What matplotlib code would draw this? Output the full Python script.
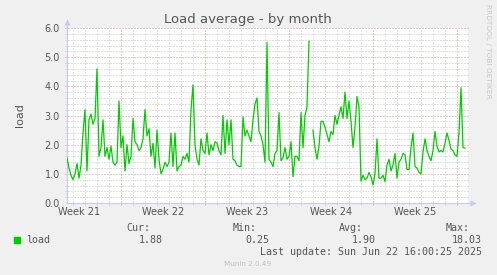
import numpy as np
import pandas as pd
import matplotlib
matplotlib.use("Agg")
import matplotlib.pyplot as plt
from matplotlib.patches import Rectangle

# load average, one sample every 4 hours
start = "2025-05-20 12:00"
load = [
    1.55, 1.2, 0.95, 0.8, 1.0, 1.35, 0.85, 1.3, 2.4, 3.2,
    1.1, 2.85, 3.05, 2.7, 2.9, 4.6, 1.6, 1.9, 2.85, 1.6,
    1.9, 1.5, 1.95, 1.4, 1.3, 1.4, 3.5, 1.9, 2.3, 1.1,
    2.0, 1.35, 1.6, 2.9, 2.1, 2.0, 1.8, 1.9, 2.2, 3.2,
    2.3, 2.55, 1.6, 2.05, 1.2, 2.5, 1.5, 1.0, 1.15, 1.4,
    1.25, 1.4, 2.4, 1.25, 2.4, 1.1, 1.25, 1.3, 1.6, 1.5,
    1.7, 1.4, 3.2, 4.05, 2.0, 1.5, 1.3, 2.2, 1.8, 1.7,
    2.4, 1.65, 2.0, 1.8, 2.1, 2.05, 1.8, 1.65, 3.0, 1.7,
    2.85, 2.0, 2.85, 1.5, 1.45, 1.3, 1.25, 1.25, 2.95, 2.3,
    2.5, 2.3, 2.1, 2.85, 3.4, 3.6, 2.45, 2.3, 2.0, 1.4,
    5.5, 1.5, 1.4, 1.25, 1.7, 1.8, 3.1, 1.45, 1.55, 1.9,
    1.5, 1.6, 2.1, 0.9, 1.6, 1.6, 1.45, 3.1, 1.9, 3.0,
    3.3, 5.55, np.nan, 2.5, 1.9, 1.5, 1.95, 2.8, 2.8, 2.6,
    2.35, 2.1, 2.45, 2.35, 3.0, 2.7, 3.0, 3.3, 2.9, 3.8,
    2.9, 3.5, 2.8, 1.9, 2.6, 3.65, 3.3, 0.75, 0.95, 0.8,
    0.85, 1.05, 0.9, 0.62, 1.0, 2.2, 0.85, 0.85, 0.95, 0.73,
    1.3, 1.5, 1.1, 1.3, 1.7, 0.85, 1.4, 1.5, 1.7, 1.65,
    1.15, 1.15, 1.9, 2.4, 1.25, 1.2, 1.05, 1.0, 1.75, 2.2,
    1.8, 1.6, 1.45, 1.8, 2.45, 1.95, 1.75, 1.8, 1.75, 2.05,
    2.4, 2.15, 1.85, 1.8, 1.65, 1.6, 2.4, 3.95, 1.9, 1.88,
]
y_ticks = [0, 1, 2, 3, 4, 5, 6]
legend_heads = ["Cur:", "Min:", "Avg:", "Max:"]
legend_vals = ["1.88", "0.25", "1.90", "18.03"]
last_update = "Last update: Sun Jun 22 16:00:25 2025"

W, H = 497, 275
BG = "#F0F0F0"
TXT = "#555555"
GREEN = "#00CC00"
GRID = "#c4c4c4"
MGRID = "#e08c8c"
AXIS = "#c8c8f4"


def fx(px):
    return px / W


def fy(py):
    return 1 - py / H


times = pd.date_range(start, periods=len(load), freq="4h")
t0 = times[0]
t1 = times[-1] + pd.Timedelta(hours=6)

fig = plt.figure(figsize=(W / 100, H / 100), dpi=100, facecolor=BG)
ax = fig.add_axes([fx(67), fy(203), fx(468) - fx(67), fy(28) - fy(203)])
ax.set_facecolor("white")
for s in ax.spines.values():
    s.set_visible(False)

ax.set_xlim(t0, t1)
ax.set_ylim(0, 6)

# grid: days / weeks (weeks start on sunday like rrdtool), 0.2 / 1.0 in y
days = pd.date_range(t0.normalize() + pd.Timedelta(days=1), t1, freq="D")
weeks = pd.date_range(t0.normalize(), t1, freq="W-SUN")
xt = ax.get_xaxis_transform()
yt = ax.get_yaxis_transform()
dot = dict(lw=0.72, dashes=(1, 2), clip_on=False, zorder=1)
for d in days:
    if d in weeks:
        continue
    ax.plot([d, d], [-0.012, 1], transform=xt, color=GRID, **dot)
for d in weeks:
    ax.plot([d, d], [-0.012, 1], transform=xt, color=MGRID, **dot)
for v in np.arange(0.2, 6.01, 0.2):
    major = abs(v - round(v)) < 1e-6
    ax.plot([-0.006, 1], [v, v], transform=yt,
            color=MGRID if major else GRID, **dot)

# axes with arrows
ax.plot([0, 0], [0, 1.035], transform=ax.transAxes, color=AXIS, lw=0.8,
        clip_on=False, zorder=2)
ax.plot([0, 1.012], [0, 0], transform=ax.transAxes, color=AXIS, lw=0.8,
        clip_on=False, zorder=2)
ax.plot([0], [1.035], transform=ax.transAxes, marker="^", ms=4, color=AXIS,
        mec="none", clip_on=False, zorder=2)
ax.plot([1.012], [0], transform=ax.transAxes, marker=">", ms=4, color=AXIS,
        mec="none", clip_on=False, zorder=2)

ax.plot(times, load, color=GREEN, lw=0.9, zorder=3)

# week labels in the middle of each week
centers = [w - pd.Timedelta(days=3.5) for w in weeks]
centers = [c for c in centers if t0 - pd.Timedelta(days=2) <= c <= t1]
ax.set_xticks(centers)
ax.set_xticklabels(["Week %d" % c.isocalendar().week for c in centers])
ax.set_yticks(y_ticks)
ax.set_yticklabels(["%.1f" % v for v in y_ticks])
ax.tick_params(length=0, labelsize=7, labelcolor=TXT)
ax.tick_params(axis="y", pad=5)
ax.tick_params(axis="x", pad=3)
ax.set_ylabel("load", fontsize=8, color=TXT, labelpad=14)

fig.text(fx(248), fy(20), "Load average - by month", ha="center", va="center",
         fontsize=9.5, color=TXT)
fig.text(fx(488), fy(4), "RRDTOOL / TOBI OETIKER", ha="center", va="top",
         rotation=270, fontsize=5.3, color="#c8c8c8")

# legend block
mono = dict(family="DejaVu Sans Mono", fontsize=7.2, color=TXT, va="center")
fig.patches.append(Rectangle((fx(14), fy(242.5)), fx(5.5), fy(237) - fy(242.5),
                             transform=fig.transFigure, color=GREEN))
fig.text(fx(26.5), fy(240), "load", ha="left", **mono)
for head, val, xh, xv in zip(legend_heads, legend_vals,
                             [150, 257, 363, 470], [163, 269, 376, 482]):
    fig.text(fx(xh), fy(228), head, ha="right", **mono)
    fig.text(fx(xv), fy(240), val, ha="right", **mono)
fig.text(fx(482), fy(252), last_update, ha="right", **mono)
fig.text(fx(248), fy(264), "Munin 2.0.49", ha="center", va="center",
         fontsize=5.2, color="#c0c0c0")

fig.savefig("out.png", dpi=100, facecolor=BG)
